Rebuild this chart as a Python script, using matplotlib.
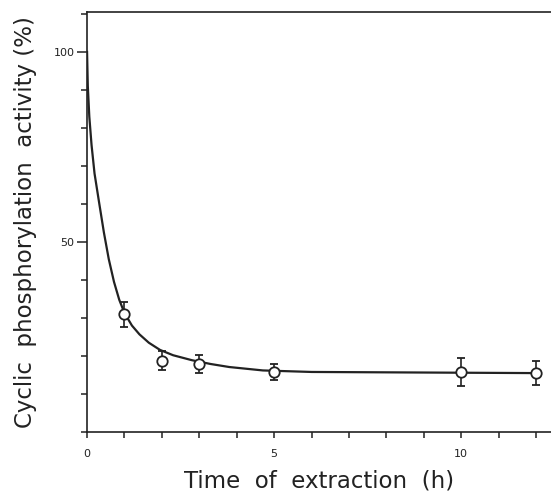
import numpy as np
import matplotlib.pyplot as plt
from matplotlib.ticker import MultipleLocator, FixedLocator

# measured points (time in h, activity in %)
time_h = [1, 2, 3, 5, 10, 12]
activity = [31.0, 18.7, 17.8, 15.8, 15.8, 15.5]
err = [3.3, 2.5, 2.4, 2.2, 3.7, 3.2]

# fitted curve
curve_x = [0.0, 0.02, 0.06, 0.12, 0.20, 0.32, 0.45, 0.58, 0.72, 0.86, 1.0,
           1.2, 1.4, 1.65, 1.95, 2.3, 2.8, 3.3, 3.8, 4.7, 6.0, 8.0, 10.0, 12.0]
curve_y = [100, 91, 83, 75.5, 68, 60.5, 52.5, 45.5, 39.5, 34.8, 31.3,
           28.0, 25.7, 23.5, 21.6, 20.2, 18.9, 17.9, 17.1, 16.2, 15.8, 15.7,
           15.6, 15.5]

ink = "#222222"

fig = plt.figure(figsize=(5.51, 4.98), dpi=100)
ax = fig.add_axes([0.158, 0.1325, 0.842, 0.8434])

ax.plot(curve_x, curve_y, color=ink, lw=1.6, zorder=2)
ax.errorbar(time_h, activity, yerr=err, fmt="o", mfc="white", mec=ink,
            mew=1.3, ms=7.5, ecolor=ink, elinewidth=1.2, capsize=3,
            capthick=1.2, zorder=3)

ax.set_xlim(0, 12.4)
ax.set_ylim(0, 110.5)

ax.xaxis.set_major_locator(FixedLocator([0, 5, 10]))
ax.xaxis.set_minor_locator(MultipleLocator(1))
ax.yaxis.set_major_locator(FixedLocator([50, 100]))
ax.yaxis.set_minor_locator(MultipleLocator(10))

ax.tick_params(which="both", direction="out", color=ink, width=1.1,
               labelsize=8, labelcolor=ink)
ax.tick_params(which="major", length=7, pad=2)
ax.tick_params(which="minor", length=4)
ax.tick_params(axis="x", which="major", length=4, pad=8)

for side in ["left", "bottom", "top"]:
    ax.spines[side].set_color(ink)
    ax.spines[side].set_linewidth(1.2)
ax.spines["right"].set_visible(False)

ax.set_xlabel("Time  of  extraction  (h)", fontsize=16.5, color=ink,
              labelpad=8)
ax.set_ylabel("Cyclic  phosphorylation  activity (%)", fontsize=16.5,
              color=ink, labelpad=12)

fig.savefig("out.png", dpi=100)
